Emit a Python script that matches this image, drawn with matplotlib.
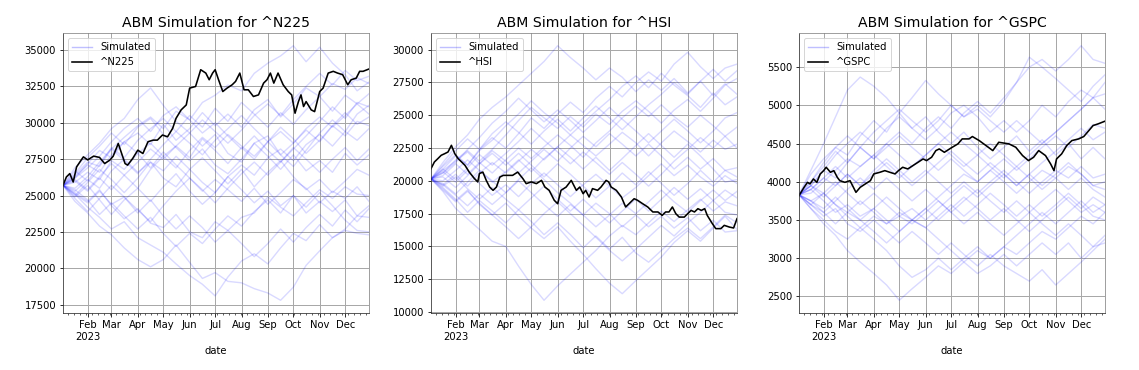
import numpy as np
import pandas as pd
import matplotlib
matplotlib.use("Agg")
import matplotlib.pyplot as plt
import matplotlib.dates as mdates
from matplotlib.ticker import FuncFormatter

# day of year (0 = Jan 1 2023) of the simulated path samples
sim_days = [2, 16, 31, 45, 59, 74, 90, 105, 120, 135, 151, 166, 181, 196, 212,
            227, 243, 258, 273, 288, 304, 319, 334, 348, 362]

# ---- ^N225 ----
n225_days = [2, 6, 10, 14, 18, 22, 26, 31, 38, 45, 51, 57, 61, 67, 71, 75, 78, 84,
             90, 96, 102, 108, 113, 119, 125, 131, 135, 141, 147, 151, 158, 164,
             170, 174, 178, 181, 185, 190, 195, 201, 205, 210, 215, 220, 226, 232,
             238, 242, 246, 250, 255, 261, 267, 271, 275, 279, 282, 285, 288, 294,
             298, 301, 304, 308, 314, 320, 325, 331, 337, 341, 347, 351, 355, 362]
n225_close = [25700, 26280, 26510, 25930, 26970, 27320, 27660, 27450, 27710, 27620,
              27200, 27430, 27700, 28580, 27890, 27200, 27090, 27550, 28120, 27890,
              28700, 28810, 28810, 29160, 29040, 29620, 30310, 30890, 31230, 32385,
              32500, 33650, 33420, 32960, 33420, 33650, 32960, 32150, 32385, 32615,
              32845, 33420, 32270, 32270, 31810, 31920, 32730, 32960, 33420, 32730,
              33420, 32615, 32150, 31920, 30660, 31460, 31920, 31120, 31460, 30890,
              30770, 31460, 32150, 32385, 33420, 33540, 33420, 33310, 32615, 32960,
              33075, 33540, 33540, 33700]
n225_sim = [
    [25700, 26400, 27300, 27000, 28200, 29000, 29800, 30400, 29600, 30800, 30200, 31400, 31900, 32600, 32200, 33400, 34100, 34600, 35300, 34200, 35200, 34100, 33300, 32200, 32800],
    [25700, 26900, 27800, 28600, 29600, 30300, 31600, 32400, 31200, 30100, 29300, 28400, 29200, 27900, 27300, 28600, 29100, 27800, 27000, 28100, 29300, 30200, 29400, 30600, 31200],
    [25700, 24600, 23800, 22900, 22300, 21400, 20600, 20100, 20600, 21600, 20400, 19300, 19700, 19100, 19000, 18600, 18300, 17800, 18700, 20200, 21200, 22100, 22700, 23600, 24300],
    [25700, 25100, 24200, 23500, 22700, 23200, 22100, 21600, 21100, 20300, 19500, 18900, 18100, 19400, 20500, 21000, 20300, 21400, 22400, 21900, 23000, 22100, 22600, 22400, 22300],
    [25700, 25200, 24600, 25400, 24300, 23400, 24100, 23100, 22800, 23700, 22500, 22100, 23200, 22600, 23500, 23800, 24900, 24200, 23600, 24500, 25400, 24800, 25600, 25100, 25000],
    [25700, 26200, 27200, 28100, 27600, 28700, 29300, 28500, 29900, 28800, 29600, 30700, 29800, 30600, 29700, 30900, 31600, 30400, 31300, 32400, 31800, 32700, 32300, 33100, 32700],
    [25700, 25900, 26600, 26100, 27400, 26800, 27900, 28600, 27700, 28400, 27600, 28900, 28100, 27200, 28300, 27500, 28700, 29400, 28600, 29600, 30400, 29700, 30500, 31300, 30600],
    [25700, 25300, 26100, 25500, 26700, 27500, 26600, 27300, 26200, 25600, 26800, 25900, 25200, 26300, 27100, 26400, 27600, 28200, 27400, 28500, 29200, 28400, 29400, 28800, 29600],
    [25700, 26500, 27600, 28400, 29300, 28500, 29700, 30300, 29200, 28300, 27400, 28200, 27100, 26500, 27500, 28600, 27700, 26800, 27800, 26700, 27400, 26600, 27900, 27100, 27800],
    [25700, 24900, 25700, 24700, 23700, 24700, 25500, 24600, 25600, 26500, 25300, 24400, 25200, 26300, 25400, 24500, 25300, 24300, 25000, 23800, 24600, 23900, 24700, 23600, 23500],
    [25700, 26100, 25400, 26300, 27200, 26400, 25500, 26800, 27700, 26900, 28100, 29000, 28300, 29200, 28400, 27700, 28700, 27800, 28600, 29500, 28700, 29800, 29100, 30100, 29800],
    [25700, 25400, 24700, 23700, 24500, 23600, 22700, 23500, 22400, 21500, 22400, 21700, 22700, 23600, 22900, 23900, 24700, 23800, 25000, 24200, 25200, 24300, 23300, 22600, 22500],
    [25700, 26700, 26000, 27100, 28300, 27600, 28800, 29600, 30300, 29400, 30500, 29700, 31000, 30100, 31400, 30600, 29700, 30700, 29900, 30900, 31800, 30800, 31900, 31300, 32000],
    [25700, 25000, 25900, 26800, 26100, 25200, 26200, 27300, 26700, 27700, 26800, 27600, 26700, 25800, 26800, 25600, 26600, 27400, 26300, 25400, 26100, 25200, 26000, 26800, 26400],
    [25700, 26300, 27100, 26600, 27800, 28700, 27900, 26900, 28000, 27100, 26200, 25300, 26100, 25400, 24600, 25500, 24400, 25200, 26100, 25500, 24500, 25300, 24800, 25600, 24600],
    [25700, 25500, 26300, 27300, 28200, 27400, 26500, 27500, 28500, 29400, 28600, 27800, 28800, 29600, 30500, 29600, 28700, 29700, 28900, 27900, 28800, 29800, 30700, 29900, 30400],
    [25700, 24800, 23900, 24800, 25700, 24900, 24000, 23200, 24300, 25300, 26200, 25400, 24500, 25500, 26500, 27300, 26400, 27300, 28300, 27500, 26600, 27500, 28300, 27400, 28200],
    [25700, 26200, 26900, 27700, 28700, 29600, 30300, 29400, 30500, 31100, 30200, 29300, 30000, 29100, 28200, 29100, 28100, 27300, 28200, 29100, 30100, 31100, 30300, 31400, 31100],
    [25700, 25100, 24500, 25300, 24400, 24900, 23800, 24700, 23600, 22700, 23600, 22800, 21800, 22600, 21700, 20800, 21700, 22700, 21800, 22800, 23700, 22900, 24000, 23200, 24100],
    [25700, 26000, 25300, 26200, 25400, 26400, 27300, 28200, 27500, 28400, 29300, 30200, 29400, 28600, 29500, 30500, 31300, 30500, 31600, 32500, 33400, 32600, 33600, 32900, 33200],
]

# ---- ^HSI ----
hsi_days = [2, 6, 10, 14, 18, 22, 26, 30, 34, 38, 42, 47, 53, 57, 59, 63, 67, 71, 75,
            79, 83, 87, 92, 98, 104, 110, 114, 120, 126, 132, 136, 141, 147, 151,
            155, 161, 167, 173, 177, 181, 184, 188, 192, 198, 202, 208, 211, 214,
            220, 226, 231, 235, 241, 245, 251, 257, 263, 269, 274, 278, 282, 286,
            290, 294, 300, 304, 308, 312, 316, 320, 324, 327, 333, 337, 343, 347,
            353, 358, 362]
hsi_close = [20930, 21440, 21690, 21950, 22070, 22200, 22710, 22070, 21690, 21440,
             21180, 20670, 20180, 19920, 20560, 20670, 20040, 19530, 19280, 19530,
             20290, 20420, 20420, 20420, 20670, 20180, 19790, 19920, 19790, 20040,
             19530, 19280, 18520, 18260, 19280, 19530, 20040, 19280, 19530, 19020,
             19280, 18770, 19410, 19280, 19530, 20040, 19920, 19530, 19280, 18770,
             18010, 18260, 18640, 18520, 18260, 18010, 17630, 17630, 17370, 17630,
             17630, 18010, 17500, 17240, 17240, 17500, 17750, 17630, 17880, 17750,
             17880, 17370, 16740, 16360, 16360, 16610, 16480, 16410, 17120]
hsi_sim = [
    [20150, 21400, 22600, 23500, 24700, 25600, 26400, 27300, 28200, 29100, 30300, 29400, 28600, 27700, 28600, 27900, 26800, 27700, 26900, 27800, 26700, 27600, 26500, 27400, 26600],
    [20150, 20900, 21900, 21200, 22400, 23300, 22500, 23600, 24800, 24000, 25100, 26000, 25200, 26300, 27200, 26400, 27500, 28300, 27600, 28900, 29800, 28700, 27800, 28600, 28900],
    [20150, 19200, 17900, 17100, 16300, 15400, 15000, 13500, 12100, 10900, 12000, 12900, 13800, 14700, 15800, 16600, 15900, 16800, 17700, 16900, 17800, 18600, 17700, 18400, 18100],
    [20150, 19400, 18500, 19300, 18200, 17400, 18300, 17300, 16400, 15600, 16500, 15400, 14400, 13300, 12200, 11400, 12400, 13300, 14200, 15300, 16200, 15400, 16400, 17300, 16300],
    [20150, 20600, 21600, 22300, 21500, 22400, 23500, 24600, 25600, 24800, 24000, 24900, 24100, 25100, 24300, 25300, 26100, 25300, 24400, 25400, 26200, 25300, 26300, 27300, 27800],
    [20150, 19700, 20500, 19600, 20600, 21400, 20600, 21500, 22400, 21600, 22600, 23500, 22700, 21900, 22800, 23700, 22900, 21900, 22900, 23800, 23000, 22200, 23100, 22400, 22800],
    [20150, 20700, 19900, 20800, 19800, 18900, 19700, 18800, 19800, 20600, 19700, 18800, 19700, 20500, 19600, 18700, 19500, 20400, 21300, 20400, 21200, 20300, 19600, 20400, 19800],
    [20150, 21100, 22000, 21200, 22300, 23100, 24200, 25100, 26100, 25200, 24400, 23500, 24400, 25300, 26200, 27200, 28000, 27100, 28200, 27300, 26500, 25600, 26700, 25800, 26400],
    [20150, 19500, 18600, 17600, 18500, 17700, 16800, 17800, 16900, 15900, 16800, 15900, 14900, 15800, 14800, 15700, 14500, 13800, 14700, 15600, 16400, 15600, 16500, 17400, 16800],
    [20150, 20400, 21300, 20500, 21400, 20600, 21600, 22500, 21700, 22600, 23500, 22700, 21800, 22900, 23800, 24800, 25700, 24900, 25800, 24900, 24100, 25000, 24200, 23400, 24100],
    [20150, 19600, 20300, 19400, 18600, 19500, 18600, 17800, 18700, 19600, 18600, 17700, 18600, 17700, 16800, 17700, 18600, 17700, 18600, 19500, 18600, 19400, 18500, 17600, 17400],
    [20150, 20800, 21500, 22200, 21300, 22300, 21500, 20600, 21500, 22400, 21500, 22500, 23400, 22600, 23600, 22800, 21900, 22800, 21900, 20900, 21800, 20900, 21700, 20800, 21000],
    [20150, 19800, 19000, 19900, 20800, 20000, 19100, 20100, 21000, 20100, 19100, 18300, 17400, 18300, 17500, 16500, 17400, 16500, 17300, 16400, 17200, 16200, 17000, 16100, 16200],
    [20150, 21200, 22300, 23200, 22400, 23600, 24500, 23700, 22800, 23800, 24700, 23800, 24800, 25700, 24800, 23900, 24900, 25800, 26600, 27500, 26600, 27600, 28500, 27600, 28400],
    [20150, 20300, 19500, 20400, 21300, 22100, 21200, 22100, 21200, 20300, 21300, 20500, 19600, 18700, 19600, 20600, 19700, 20700, 19800, 18900, 19800, 20800, 19900, 20800, 20300],
    [20150, 19300, 18400, 19200, 18300, 17400, 16500, 15600, 16500, 17500, 18400, 17500, 16600, 15700, 14700, 13900, 14800, 15700, 16600, 15800, 16800, 17600, 18500, 19300, 18700],
    [20150, 20900, 20100, 21000, 22000, 21200, 22100, 23000, 24000, 23100, 22200, 21300, 22200, 21400, 20500, 21400, 20500, 19600, 20500, 21500, 22400, 23300, 22500, 23400, 22500],
    [20150, 19700, 18900, 18100, 19000, 18200, 19100, 20000, 19100, 18200, 17300, 18200, 17400, 16500, 17400, 18300, 17500, 18400, 19300, 18400, 17600, 18500, 19300, 18500, 19200],
    [20150, 20600, 21400, 22400, 23300, 24400, 25300, 26300, 25400, 24500, 25400, 24600, 23700, 24600, 25600, 24700, 23800, 22900, 23800, 24700, 23800, 22900, 23800, 24800, 25200],
    [20150, 20000, 20800, 21600, 20800, 19900, 20700, 21600, 20700, 21700, 22600, 21800, 20900, 21800, 20800, 21700, 22700, 23600, 22700, 21800, 22800, 21900, 20900, 19900, 20100],
]

# ---- ^GSPC ----
gspc_days = [2, 8, 12, 15, 19, 23, 27, 31, 34, 39, 43, 47, 50, 56, 62, 66, 69, 74,
             80, 86, 90, 97, 103, 109, 115, 119, 124, 130, 136, 142, 148, 152, 158,
             163, 167, 173, 181, 189, 194, 202, 206, 214, 222, 230, 237, 249, 257,
             265, 272, 278, 284, 292, 298, 302, 305, 311, 317, 323, 331, 337, 343,
             348, 354, 362]
gspc_close = [3820, 3928, 3993, 3972, 4037, 3993, 4103, 4146, 4190, 4124, 4146, 4059,
              4015, 3993, 4015, 3928, 3862, 3928, 3972, 4015, 4103, 4124, 4146, 4124,
              4103, 4146, 4190, 4168, 4212, 4255, 4299, 4277, 4321, 4408, 4430, 4386,
              4443, 4496, 4561, 4561, 4592, 4539, 4474, 4408, 4517, 4496, 4452, 4343,
              4277, 4321, 4408, 4343, 4234, 4146, 4299, 4365, 4474, 4539, 4561, 4592,
              4670, 4736, 4758, 4793]
gspc_sim = [
    [3830, 4150, 4500, 4850, 5200, 5370, 5250, 5100, 4900, 4700, 4850, 4650, 4500, 4650, 4450, 4300, 4450, 4600, 4400, 4550, 4350, 4500, 4300, 4450, 4300],
    [3830, 3950, 4150, 4050, 4250, 4450, 4300, 4500, 4650, 4500, 4700, 4850, 4700, 4900, 5050, 4900, 5100, 5300, 5500, 5600, 5450, 5600, 5780, 5600, 5550],
    [3830, 3650, 3450, 3300, 3100, 2950, 2800, 2650, 2450, 2600, 2750, 2900, 2800, 2950, 3100, 3000, 3150, 3050, 3200, 3350, 3250, 3400, 3550, 3450, 3600],
    [3830, 4000, 4250, 4450, 4350, 4600, 4800, 4650, 4900, 5100, 5325, 5150, 5000, 4850, 5000, 4850, 5050, 5300, 5630, 5500, 5350, 5200, 5050, 5250, 5400],
    [3830, 3700, 3550, 3650, 3450, 3350, 3500, 3350, 3200, 3350, 3200, 3050, 3200, 3050, 2900, 3050, 2900, 2800, 2700, 2850, 2650, 2800, 2950, 3100, 3250],
    [3830, 3900, 4050, 3950, 4100, 3950, 4150, 4300, 4150, 4000, 4150, 4000, 3850, 4000, 3850, 4000, 4150, 4000, 3850, 4000, 4150, 4050, 4200, 4050, 4100],
    [3830, 3750, 3850, 3700, 3600, 3750, 3600, 3450, 3550, 3450, 3600, 3750, 3600, 3750, 3900, 3750, 3600, 3750, 3600, 3750, 3900, 3750, 3600, 3700, 3600],
    [3830, 3950, 4150, 4350, 4500, 4650, 4500, 4700, 4850, 4700, 4550, 4700, 4900, 5000, 4850, 4650, 4800, 4650, 4800, 5000, 4850, 5050, 5200, 5100, 5300],
    [3830, 3700, 3600, 3450, 3600, 3500, 3350, 3200, 3350, 3500, 3400, 3250, 3100, 2950, 2800, 2900, 3050, 2900, 3050, 3200, 3050, 3200, 3000, 3150, 3300],
    [3830, 3950, 3800, 3950, 4100, 3950, 4100, 4250, 4100, 3950, 4100, 4250, 4400, 4250, 4100, 4250, 4100, 3950, 4100, 4250, 4400, 4550, 4700, 4550, 4650],
    [3830, 3650, 3500, 3350, 3250, 3400, 3550, 3450, 3600, 3500, 3400, 3550, 3700, 3550, 3700, 3850, 3700, 3550, 3700, 3550, 3700, 3850, 3700, 3550, 3500],
    [3830, 3900, 3750, 3600, 3700, 3550, 3650, 3800, 3650, 3500, 3650, 3800, 3950, 4100, 4000, 4150, 4000, 3850, 4000, 4150, 4050, 4200, 4100, 3950, 3900],
    [3830, 4000, 4200, 4400, 4250, 4450, 4650, 4800, 4950, 4800, 4650, 4800, 5000, 4850, 4950, 4800, 4650, 4800, 4650, 4500, 4650, 4800, 4950, 5100, 4950],
    [3830, 3700, 3850, 3700, 3550, 3400, 3250, 3100, 2900, 2750, 2850, 3000, 2850, 3000, 3150, 3000, 3150, 3300, 3450, 3600, 3450, 3600, 3750, 3600, 3700],
    [3830, 3950, 3850, 4000, 3850, 3700, 3850, 3700, 3550, 3650, 3500, 3650, 3800, 3950, 3800, 3950, 4100, 3950, 4100, 3950, 4100, 4250, 4100, 3950, 4000],
    [3830, 4100, 4300, 4450, 4600, 4450, 4300, 4450, 4600, 4450, 4300, 4150, 4300, 4150, 4000, 4150, 4300, 4150, 4300, 4450, 4600, 4450, 4600, 4750, 4700],
    [3830, 3750, 3600, 3750, 3900, 4050, 3900, 4050, 3900, 3750, 3900, 3750, 3600, 3450, 3600, 3450, 3300, 3450, 3600, 3450, 3300, 3450, 3300, 3150, 3200],
    [3830, 3900, 4050, 4200, 4050, 4200, 4350, 4200, 4050, 4200, 4350, 4500, 4350, 4200, 4350, 4200, 4050, 4200, 4050, 3900, 4050, 3900, 4050, 3900, 3800],
    [3830, 3750, 3650, 3800, 3650, 3500, 3650, 3500, 3350, 3500, 3650, 3500, 3650, 3800, 3650, 3500, 3650, 3500, 3350, 3500, 3650, 3800, 3650, 3800, 3700],
    [3830, 3850, 4000, 4150, 4300, 4200, 4350, 4500, 4350, 4200, 4350, 4500, 4650, 4500, 4350, 4500, 4350, 4200, 4350, 4500, 4650, 4800, 4950, 5100, 5150],
]

tickers = ["^N225", "^HSI", "^GSPC"]
panels = [
    (n225_days, n225_close, n225_sim),
    (hsi_days, hsi_close, hsi_sim),
    (gspc_days, gspc_close, gspc_sim),
]

base = pd.Timestamp("2023-01-01")


def to_dates(days):
    return base + pd.to_timedelta(days, unit="D")


def month_label(x, pos):
    d = mdates.num2date(x)
    if d.month == 2:
        return d.strftime("%b") + "\n2023"
    return d.strftime("%b")


fig = plt.figure(figsize=(1139 / 72, 370 / 72), dpi=72)
lefts = [63 / 1139, 431 / 1139, 799 / 1139]

for i, (ticker, (days, close, sims)) in enumerate(zip(tickers, panels)):
    ax = fig.add_axes([lefts[i], 57 / 370, 306 / 1139, 280 / 370])
    sx = to_dates(sim_days)
    for j, path in enumerate(sims):
        ax.plot(sx, path, color="blue", alpha=0.15, lw=1.4,
                label="Simulated" if j == 0 else None)
    ax.plot(to_dates(days), close, color="black", lw=1.6, label=ticker)

    ax.set_xlim(to_dates([2])[0], to_dates([362])[0])
    ax.xaxis.set_major_locator(mdates.MonthLocator(bymonth=range(2, 13)))
    ax.xaxis.set_major_formatter(FuncFormatter(month_label))
    ax.xaxis.set_minor_locator(mdates.WeekdayLocator(byweekday=mdates.MO))
    ax.tick_params(axis="x", which="major", length=4)
    ax.tick_params(axis="x", which="minor", length=2)
    for lab in ax.get_xticklabels():
        lab.set_horizontalalignment("center")

    ax.grid(True, which="major", color="#a8a8a8", lw=1)
    for side in ["top", "right"]:
        ax.spines[side].set_color("#888888")
    for side in ["left", "bottom"]:
        ax.spines[side].set_color("#333333")

    ax.set_title(f"ABM Simulation for {ticker}", fontsize=14)
    ax.set_xlabel("date")
    leg = ax.legend(loc="upper left", fontsize=10)
    leg.get_lines()[0].set_alpha(0.25)

fig.savefig("out.png", dpi=72)
